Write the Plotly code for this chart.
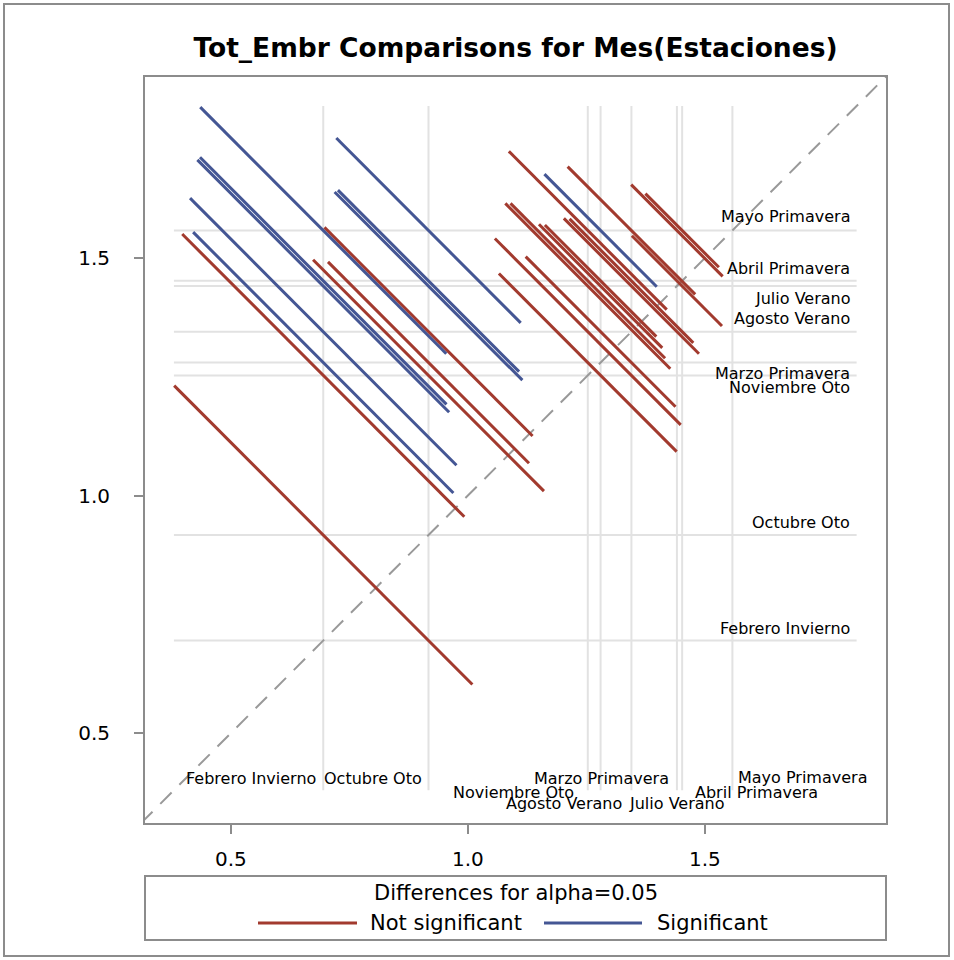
import plotly.graph_objects as go

# Least-squares means of Tot_Embr for each Mes(Estaciones) level
levels = ["Febrero Invierno", "Octubre Oto", "Noviembre Oto", "Marzo Primavera",
          "Agosto Verano", "Julio Verano", "Abril Primavera", "Mayo Primavera"]
lsmeans = [0.695, 0.917, 1.253, 1.280, 1.345, 1.441, 1.452, 1.558]

# Pairwise differences: first level (x), second level (y), CI half-width of the difference
pair_first = ["Febrero Invierno"] * 7 + ["Octubre Oto"] * 6 + ["Noviembre Oto"] * 5 \
    + ["Marzo Primavera"] * 4 + ["Agosto Verano"] * 3 + ["Julio Verano"] * 2 + ["Abril Primavera"]
pair_second = [
    "Octubre Oto", "Noviembre Oto", "Marzo Primavera", "Agosto Verano", "Julio Verano", "Abril Primavera", "Mayo Primavera",
    "Noviembre Oto", "Marzo Primavera", "Agosto Verano", "Julio Verano", "Abril Primavera", "Mayo Primavera",
    "Marzo Primavera", "Agosto Verano", "Julio Verano", "Abril Primavera", "Mayo Primavera",
    "Agosto Verano", "Julio Verano", "Abril Primavera", "Mayo Primavera",
    "Julio Verano", "Abril Primavera", "Mayo Primavera",
    "Abril Primavera", "Mayo Primavera",
    "Mayo Primavera",
]
ci_halfwidth = [
    0.629, 0.595, 0.549, 0.562, 0.531, 0.520, 0.519,
    0.487, 0.424, 0.439, 0.396, 0.382, 0.389,
    0.375, 0.392, 0.348, 0.326, 0.333,
    0.316, 0.260, 0.235, 0.237,
    0.285, 0.261, 0.269,
    0.190, 0.193,
    0.155,
]

x_ticks = [0.5, 1.0, 1.5]
y_ticks = [0.5, 1.0, 1.5]
alpha_text = "Differences for alpha=0.05"
legend_names = ["Not significant", "Significant"]

# ---- styling / layout constants ----
W, H = 954, 960
ML, MR, MT, MB = 145, 68, 77, 137
PW, PH = W - ML - MR, H - MT - MB
X_RANGE = [0.319, 1.882]
Y_RANGE = [0.311, 1.881]
REF_LO, REF_HI = 0.38, 1.82
RED = "#A23A2E"
BLUE = "#445694"
GRID = "#e2e2e2"
FRAME = "#8c8c8c"
FONT = "DejaVu Sans"


def pxx(xp):
    return (xp - ML) / PW


def pxy(yp):
    return (MT + PH - yp) / PH


mean_of = dict(zip(levels, lsmeans))

fig = go.Figure()

# reference lines at every level mean
shapes = []
for m in lsmeans:
    shapes.append(dict(type="line", xref="x", yref="y", x0=m, x1=m, y0=REF_LO, y1=REF_HI,
                       line=dict(color=GRID, width=2), layer="below"))
    shapes.append(dict(type="line", xref="x", yref="y", x0=REF_LO, x1=REF_HI, y0=m, y1=m,
                       line=dict(color=GRID, width=2), layer="below"))

# diagonal of equality
lo, hi = min(X_RANGE[0], Y_RANGE[0]), max(X_RANGE[1], Y_RANGE[1])
fig.add_trace(go.Scatter(x=[lo, hi], y=[lo, hi], mode="lines",
                         line=dict(color="#999999", width=2, dash="16px,11px"),
                         hoverinfo="skip", showlegend=False))

# one segment per comparison, centred at (mean_a, mean_b) with slope -1
seg = {False: ([], []), True: ([], [])}
for a, b, h in zip(pair_first, pair_second, ci_halfwidth):
    ma, mb = mean_of[a], mean_of[b]
    sig = abs(ma - mb) > h
    xs, ys = seg[sig]
    xs += [ma - h / 2, ma + h / 2, None]
    ys += [mb + h / 2, mb - h / 2, None]

for sig, color, name in [(False, RED, legend_names[0]), (True, BLUE, legend_names[1])]:
    xs, ys = seg[sig]
    fig.add_trace(go.Scatter(x=xs, y=ys, mode="lines", name=name,
                             line=dict(color=color, width=3), showlegend=False))

annotations = []
# level labels along the right side
right_shift = [12, 13, -12, -11, 13, -12, 12, 14]
for lvl, m, s in zip(levels, lsmeans, right_shift):
    annotations.append(dict(text=lvl, xref="paper", yref="y", x=pxx(852), y=m, yshift=s,
                            xanchor="right", yanchor="middle", showarrow=False,
                            font=dict(family=FONT, size=16, color="black")))

# level labels along the bottom
bottom_place = {
    "Febrero Invierno": ("right", -5, 778),
    "Octubre Oto": ("right", -5, 778),
    "Noviembre Oto": ("right", -12, 792),
    "Marzo Primavera": ("center", 1, 778),
    "Agosto Verano": ("right", -7, 803),
    "Julio Verano": ("center", 0, 803),
    "Abril Primavera": ("left", 11, 792),
    "Mayo Primavera": ("left", 4, 777),
}
for lvl, m in zip(levels, lsmeans):
    anchor, dx, yp = bottom_place[lvl]
    annotations.append(dict(text=lvl, xref="x", yref="paper", x=m, y=pxy(yp), xshift=dx,
                            xanchor=anchor, yanchor="middle", showarrow=False,
                            font=dict(family=FONT, size=16, color="black")))

# legend panel
shapes.append(dict(type="rect", xref="paper", yref="paper", x0=0, x1=1, y0=pxy(940), y1=pxy(876),
                   line=dict(color=FRAME, width=2), fillcolor="rgba(0,0,0,0)"))
annotations.append(dict(text=alpha_text, xref="paper", yref="paper", x=0.5, y=pxy(893),
                        xanchor="center", yanchor="middle", showarrow=False,
                        font=dict(family=FONT, size=21, color="black")))
for (x0, x1, tx), color, name in zip([(258, 357, 368), (544, 642, 655)], [RED, BLUE], legend_names):
    shapes.append(dict(type="line", xref="paper", yref="paper", x0=pxx(x0), x1=pxx(x1),
                       y0=pxy(923), y1=pxy(923), line=dict(color=color, width=3)))
    annotations.append(dict(text=name, xref="paper", yref="paper", x=pxx(tx), y=pxy(923),
                            xanchor="left", yanchor="middle", showarrow=False,
                            font=dict(family=FONT, size=21, color="black")))

# outer frame of the graphic
shapes.append(dict(type="rect", xref="paper", yref="paper", x0=pxx(4), x1=pxx(949),
                   y0=pxy(956), y1=pxy(4), line=dict(color=FRAME, width=2),
                   fillcolor="rgba(0,0,0,0)", layer="below"))

axis_common = dict(showgrid=False, zeroline=False, showline=True, mirror=True,
                   linecolor=FRAME, linewidth=2, ticks="outside", ticklen=9, tickwidth=2,
                   tickcolor=FRAME, tickfont=dict(family=FONT, size=20, color="black"),
                   tickformat=".1f")

fig.update_layout(
    width=W, height=H,
    margin=dict(l=ML, r=MR, t=MT, b=MB),
    paper_bgcolor="white", plot_bgcolor="white",
    title=dict(text="<b>Tot_Embr Comparisons for Mes(Estaciones)</b>", x=0.5, xref="paper",
               xanchor="center", y=1 - 48 / H, yanchor="middle",
               font=dict(family=FONT, size=26.5, color="black")),
    xaxis=dict(range=X_RANGE, tickvals=x_ticks, ticklabelstandoff=8, **axis_common),
    yaxis=dict(range=Y_RANGE, tickvals=y_ticks, ticklabelstandoff=20, **axis_common),
    shapes=shapes,
    annotations=annotations,
    showlegend=False,
)

fig.write_html("out.html")
